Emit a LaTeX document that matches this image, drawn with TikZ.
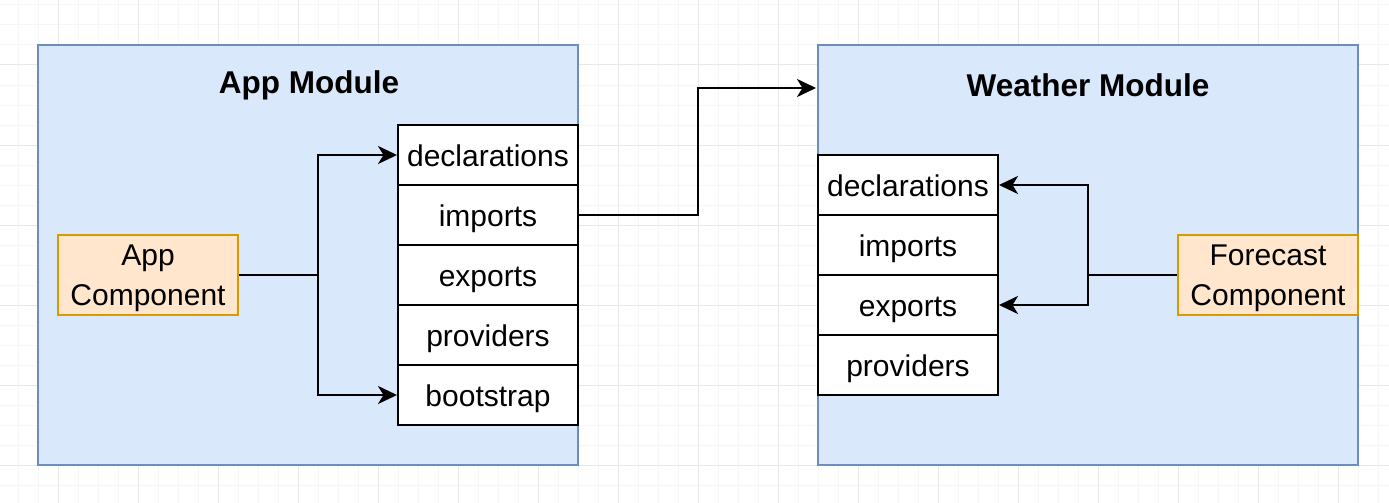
\documentclass[tikz,border=0pt]{standalone}
\usepackage{fontspec}
\setmainfont{Liberation Sans}
\usetikzlibrary{arrows.meta}
\definecolor{modfill}{HTML}{DAE8FC}
\definecolor{moddraw}{HTML}{6C8EBF}
\definecolor{compfill}{HTML}{FFE6CC}
\definecolor{compdraw}{HTML}{D79B00}
\definecolor{gridminor}{HTML}{F6F6F6}
\definecolor{gridmajor}{HTML}{E8E8E8}
\tikzset{
  module/.style={draw=moddraw, fill=modfill, line width=2pt, minimum width=540pt, minimum height=420pt, inner sep=0pt},
  modtitle/.style={font=\fontsize{31.5}{36}\selectfont\bfseries, inner sep=0pt},
  rowbox/.style={draw=black, fill=white, line width=2pt, minimum width=180pt, minimum height=60pt, inner sep=0pt, text height=24pt, text depth=2pt, font=\fontsize{30}{36}\selectfont},
  compbox/.style={draw=compdraw, fill=compfill, line width=2pt, minimum width=180pt, minimum height=80pt, inner sep=0pt, align=center, font=\fontsize{30}{40}\selectfont},
  conn/.style={draw=black, line width=2.6pt},
  arr/.style={conn, -{Stealth[length=19pt, width=18pt, inset=5.5pt]}},
  gminor/.style={draw=gridminor, line width=1pt},
  gmajor/.style={draw=gridmajor, line width=1pt}
}
\begin{document}
\begin{tikzpicture}[x=1pt, y=-1pt]
\useasboundingbox (0,0) rectangle (1389,503);
\fill[white] (0,0) rectangle (1389,503);
% grid
\foreach \x in {18,38,...,1389} \draw[gminor] (\x,0) -- (\x,503);
\foreach \y in {5,25,...,503} \draw[gminor] (0,\y) -- (1389,\y);
\foreach \x in {58,138,...,1389} \draw[gmajor] (\x,0) -- (\x,503);
\foreach \y in {65,145,...,503} \draw[gmajor] (0,\y) -- (1389,\y);
% modules
\node[module] (app) at (308,255) {};
\node[module] (wm) at (1088,255) {};
\node[modtitle] (apptitle) at (309,85) {App Module};
\node[modtitle] (wmtitle) at (1088,85) {Weather Module};
% app table
\node[rowbox] (ad) at (488,155) {declarations};
\node[rowbox] (ai) at (488,215) {imports};
\node[rowbox] (ae) at (488,275) {exports};
\node[rowbox] (ap) at (488,335) {providers};
\node[rowbox] (ab) at (488,395) {bootstrap};
% weather table
\node[rowbox] (wd) at (908,185) {declarations};
\node[rowbox] (wi) at (908,245) {imports};
\node[rowbox] (we) at (908,305) {exports};
\node[rowbox] (wp) at (908,365) {providers};
% components
\node[compbox] (appc) at (148,275) {\rule{0pt}{28pt}App\\Component};
\node[compbox] (fc) at (1268,275) {\rule{0pt}{28pt}Forecast\\Component};
% connectors
\coordinate (j1) at (318,275);
\draw[conn] (appc.east) -- (j1);
\draw[arr] (j1) |- (ad.west);
\draw[arr] (j1) |- (ab.west);
\coordinate (bend) at (698,88);
\coordinate (wtarget) at (816,88);
\draw[arr] (ai.east) -| (bend) -- (wtarget);
\coordinate (j3) at (1088,275);
\draw[conn] (fc.west) -- (j3);
\draw[arr] (j3) |- (wd.east);
\draw[arr] (j3) |- (we.east);
\end{tikzpicture}
\end{document}
